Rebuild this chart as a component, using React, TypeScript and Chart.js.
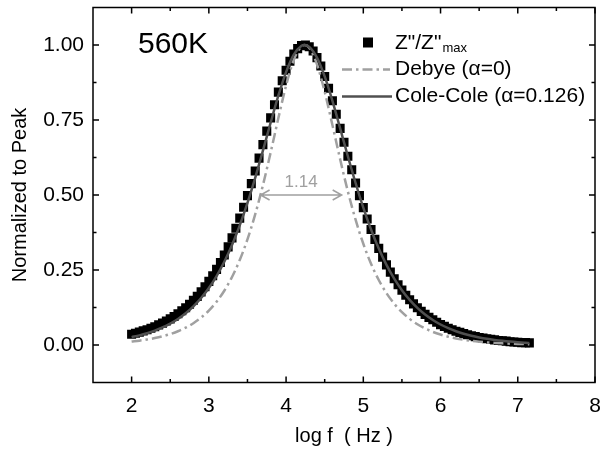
import React, { useEffect, useRef } from "react";
import { Chart, registerables } from "chart.js";

Chart.register(...registerables);

const FONT = "'Liberation Sans', Arial, sans-serif";

const X_MIN = 1.5;
const X_MAX = 8;
const Y_MIN = -0.125;
const Y_MAX = 1.125;

const xTicks = [2, 3, 4, 5, 6, 7, 8];
const xMinorTicks = [2.5, 3.5, 4.5, 5.5, 6.5, 7.5];
const yTicks = [0, 0.25, 0.5, 0.75, 1.0];
const yMinorTicks = [0.125, 0.375, 0.625, 0.875];

// measured Z''/Z''max (log f)
const dataX = [
  2.0, 2.05, 2.1, 2.15, 2.2, 2.25, 2.3, 2.35, 2.4, 2.45,
  2.5, 2.55, 2.6, 2.65, 2.7, 2.75, 2.8, 2.85, 2.9, 2.95,
  3.0, 3.05, 3.1, 3.15, 3.2, 3.25, 3.3, 3.35, 3.4, 3.45,
  3.5, 3.55, 3.6, 3.65, 3.7, 3.75, 3.8, 3.85, 3.9, 3.95,
  4.0, 4.05, 4.1, 4.15, 4.2, 4.25, 4.3, 4.35, 4.4, 4.45,
  4.5, 4.55, 4.6, 4.65, 4.7, 4.75, 4.8, 4.85, 4.9, 4.95,
  5.0, 5.05, 5.1, 5.15, 5.2, 5.25, 5.3, 5.35, 5.4, 5.45,
  5.5, 5.55, 5.6, 5.65, 5.7, 5.75, 5.8, 5.85, 5.9, 5.95,
  6.0, 6.05, 6.1, 6.15, 6.2, 6.25, 6.3, 6.35, 6.4, 6.45,
  6.5, 6.55, 6.6, 6.65, 6.7, 6.75, 6.8, 6.85, 6.9, 6.95,
  7.0, 7.05, 7.1, 7.15,
];
const dataY = [
  0.036, 0.039, 0.043, 0.047, 0.051, 0.056, 0.061, 0.067, 0.073, 0.08,
  0.087, 0.095, 0.104, 0.114, 0.124, 0.136, 0.149, 0.162, 0.177, 0.194,
  0.212, 0.231, 0.252, 0.275, 0.3, 0.327, 0.357, 0.389, 0.423, 0.459,
  0.498, 0.538, 0.58, 0.623, 0.668, 0.713, 0.757, 0.801, 0.843, 0.881,
  0.916, 0.946, 0.97, 0.988, 0.998, 1.0, 0.994, 0.98, 0.958, 0.93,
  0.895, 0.856, 0.814, 0.769, 0.722, 0.676, 0.629, 0.584, 0.54, 0.498,
  0.458, 0.42, 0.385, 0.352, 0.322, 0.293, 0.267, 0.243, 0.221, 0.201,
  0.183, 0.166, 0.151, 0.137, 0.124, 0.112, 0.102, 0.092, 0.084, 0.076,
  0.068, 0.062, 0.056, 0.051, 0.046, 0.042, 0.038, 0.034, 0.031, 0.028,
  0.025, 0.023, 0.021, 0.019, 0.017, 0.015, 0.014, 0.013, 0.011, 0.01,
  0.009, 0.008, 0.008, 0.007,
];

// fitted curves (log f)
const fitX = [
  2.0, 2.1, 2.2, 2.3, 2.4, 2.5, 2.6, 2.7, 2.8, 2.9,
  3.0, 3.1, 3.2, 3.3, 3.4, 3.5, 3.6, 3.7, 3.8, 3.9,
  4.0, 4.1, 4.2, 4.24, 4.3, 4.4, 4.5, 4.6, 4.7, 4.8, 4.9,
  5.0, 5.1, 5.2, 5.3, 5.4, 5.5, 5.6, 5.7, 5.8, 5.9,
  6.0, 6.1, 6.2, 6.3, 6.4, 6.5, 6.6, 6.7, 6.8, 6.9,
  7.0, 7.1, 7.15,
];
const debyeY = [
  0.0115, 0.0145, 0.0182, 0.023, 0.0289, 0.0364, 0.0458, 0.0576, 0.0725, 0.0912,
  0.1147, 0.1441, 0.1809, 0.2266, 0.2832, 0.3523, 0.4353, 0.5325, 0.6416, 0.7562,
  0.8646, 0.9502, 0.9958, 1.0, 0.9905, 0.9358, 0.8442, 0.7333, 0.6191, 0.512, 0.4176,
  0.3374, 0.2709, 0.2167, 0.1729, 0.1377, 0.1096, 0.0871, 0.0693, 0.055, 0.0437,
  0.0348, 0.0276, 0.0219, 0.0174, 0.0138, 0.011, 0.0087, 0.0069, 0.0055, 0.0044,
  0.0035, 0.0028, 0.0025,
];
const coleY = [
  0.0263, 0.0321, 0.0392, 0.0478, 0.0584, 0.0714, 0.0868, 0.1058, 0.1287, 0.1565,
  0.1899, 0.2299, 0.2773, 0.3334, 0.3988, 0.4736, 0.5573, 0.6477, 0.741, 0.8309,
  0.9095, 0.9677, 0.9973, 1.0, 0.9939, 0.9581, 0.8952, 0.8136, 0.7223, 0.6292, 0.54,
  0.4579, 0.385, 0.3215, 0.2672, 0.2213, 0.1827, 0.1505, 0.1238, 0.1017, 0.0835,
  0.0684, 0.0561, 0.046, 0.0377, 0.0308, 0.0252, 0.0206, 0.0169, 0.0138, 0.0113,
  0.0093, 0.0076, 0.0068,
];

const fwhmStart = 3.67;
const fwhmEnd = 4.72;
const fwhmLevel = 0.5;
const fwhmLabel = "1.14";

const tempLabel = "560K";
const legendDebye = "Debye (\u03b1=0)";
const legendCole = "Cole-Cole (\u03b1=0.126)";

const decor = {
  id: "decor",
  afterDraw(chart: any) {
    const { ctx, chartArea } = chart;
    const xs = chart.scales.x;
    const ys = chart.scales.y;
    const { left, right, top, bottom } = chartArea;
    ctx.save();
    // frame
    ctx.strokeStyle = "#000";
    ctx.lineWidth = 1.5;
    ctx.strokeRect(left, top, right - left, bottom - top);
    // ticks (inward, mirrored)
    const major = 6;
    const minor = 3.5;
    ctx.beginPath();
    const xt = (v: number, len: number) => {
      const p = xs.getPixelForValue(v);
      ctx.moveTo(p, bottom);
      ctx.lineTo(p, bottom - len);
      ctx.moveTo(p, top);
      ctx.lineTo(p, top + len);
    };
    const yt = (v: number, len: number) => {
      const p = ys.getPixelForValue(v);
      ctx.moveTo(left, p);
      ctx.lineTo(left + len, p);
      ctx.moveTo(right, p);
      ctx.lineTo(right - len, p);
    };
    xTicks.forEach((v) => xt(v, major));
    xMinorTicks.forEach((v) => xt(v, minor));
    yTicks.forEach((v) => yt(v, major));
    yMinorTicks.forEach((v) => yt(v, minor));
    ctx.stroke();

    // temperature label
    ctx.fillStyle = "#000";
    ctx.font = `30px ${FONT}`;
    ctx.textAlign = "left";
    ctx.textBaseline = "middle";
    ctx.fillText(tempLabel, left + 45, top + 37);

    // legend
    const lx = left + 249;
    ctx.fillRect(left + 270, top + 30, 10, 10);
    ctx.font = `21px ${FONT}`;
    const tx = left + 302;
    const zText = 'Z"/Z"';
    ctx.fillText(zText, tx, top + 36);
    const zw = ctx.measureText(zText).width;
    ctx.font = `13px ${FONT}`;
    ctx.fillText("max", tx + zw + 1, top + 41);

    ctx.lineWidth = 2.5;
    ctx.strokeStyle = "#a0a0a0";
    ctx.setLineDash([10, 4, 2.5, 4]);
    ctx.beginPath();
    ctx.moveTo(lx, top + 62);
    ctx.lineTo(lx + 48, top + 62);
    ctx.stroke();
    ctx.setLineDash([]);
    ctx.strokeStyle = "#505050";
    ctx.beginPath();
    ctx.moveTo(lx, top + 89);
    ctx.lineTo(lx + 50, top + 89);
    ctx.stroke();
    ctx.fillStyle = "#000";
    ctx.font = `21px ${FONT}`;
    ctx.fillText(legendDebye, tx, top + 62);
    ctx.fillText(legendCole, tx, top + 89);

    // FWHM arrow
    const x1 = xs.getPixelForValue(fwhmStart);
    const x2 = xs.getPixelForValue(fwhmEnd);
    const yy = ys.getPixelForValue(fwhmLevel);
    ctx.strokeStyle = "#a0a0a0";
    ctx.lineWidth = 1.5;
    ctx.beginPath();
    ctx.moveTo(x1, yy);
    ctx.lineTo(x2, yy);
    ctx.moveTo(x1 + 9, yy - 5);
    ctx.lineTo(x1, yy);
    ctx.lineTo(x1 + 9, yy + 5);
    ctx.moveTo(x2 - 9, yy - 5);
    ctx.lineTo(x2, yy);
    ctx.lineTo(x2 - 9, yy + 5);
    ctx.stroke();
    ctx.fillStyle = "#a0a0a0";
    ctx.font = `17px ${FONT}`;
    ctx.textAlign = "center";
    ctx.fillText(fwhmLabel, (x1 + x2) / 2, yy - 13);
    ctx.restore();
  },
};

export default function App() {
  const ref = useRef<HTMLCanvasElement>(null);
  useEffect(() => {
    document.body.style.margin = "0";
    const canvas = ref.current!;
    const chart = new Chart(canvas, {
      type: "scatter",
      data: {
        datasets: [
          {
            label: "Cole-Cole",
            data: fitX.map((x, i) => ({ x, y: coleY[i] })),
            showLine: true,
            borderColor: "#505050",
            borderWidth: 2.5,
            pointRadius: 0,
            cubicInterpolationMode: "monotone",
            order: 1,
          },
          {
            label: "Debye",
            data: fitX.map((x, i) => ({ x, y: debyeY[i] })),
            showLine: true,
            borderColor: "#a0a0a0",
            borderWidth: 2.5,
            borderDash: [10, 4, 2.5, 4],
            pointRadius: 0,
            cubicInterpolationMode: "monotone",
            order: 2,
          },
          {
            label: "Z''/Z''max",
            data: dataX.map((x, i) => ({ x, y: dataY[i] })),
            showLine: false,
            pointStyle: "rect",
            pointRadius: 6.4,
            backgroundColor: "#000",
            borderColor: "#000",
            borderWidth: 0,
            order: 3,
          },
        ],
      } as any,
      options: {
        responsive: false,
        animation: false,
        events: [],
        layout: { padding: { top: 7.5, right: 8, left: 0, bottom: 0 } },
        plugins: { legend: { display: false }, tooltip: { enabled: false } },
        scales: {
          x: {
            type: "linear",
            min: X_MIN,
            max: X_MAX,
            afterBuildTicks: (s: any) => {
              s.ticks = xTicks.map((v) => ({ value: v }));
            },
            afterFit: (s: any) => {
              s.height = 73.5;
              s.paddingLeft = 0;
              s.paddingRight = 0;
            },
            grid: { display: false, drawTicks: false },
            border: { display: false },
            ticks: {
              color: "#000",
              font: { family: FONT, size: 21 },
              padding: 11,
              maxRotation: 0,
              autoSkip: false,
              callback: (v: any) => String(v),
            },
            title: {
              display: true,
              text: "log f  ( Hz )",
              color: "#000",
              font: { family: FONT, size: 20 },
              padding: { top: 0, bottom: 8 },
            },
          },
          y: {
            type: "linear",
            min: Y_MIN,
            max: Y_MAX,
            afterBuildTicks: (s: any) => {
              s.ticks = yTicks.map((v) => ({ value: v }));
            },
            afterFit: (s: any) => {
              s.width = 93;
              s.paddingTop = 0;
              s.paddingBottom = 0;
            },
            grid: { display: false, drawTicks: false },
            border: { display: false },
            ticks: {
              color: "#000",
              font: { family: FONT, size: 21 },
              padding: 9,
              autoSkip: false,
              callback: (v: any) => Number(v).toFixed(2),
            },
            title: {
              display: true,
              text: "Normalized to Peak",
              color: "#000",
              font: { family: FONT, size: 20 },
              padding: { top: 8, bottom: 0 },
            },
          },
        },
      } as any,
      plugins: [decor],
    });
    return () => chart.destroy();
  }, []);
  return (
    <canvas
      ref={ref}
      width={603}
      height={456}
      style={{ display: "block", width: 603, height: 456 }}
    />
  );
}
